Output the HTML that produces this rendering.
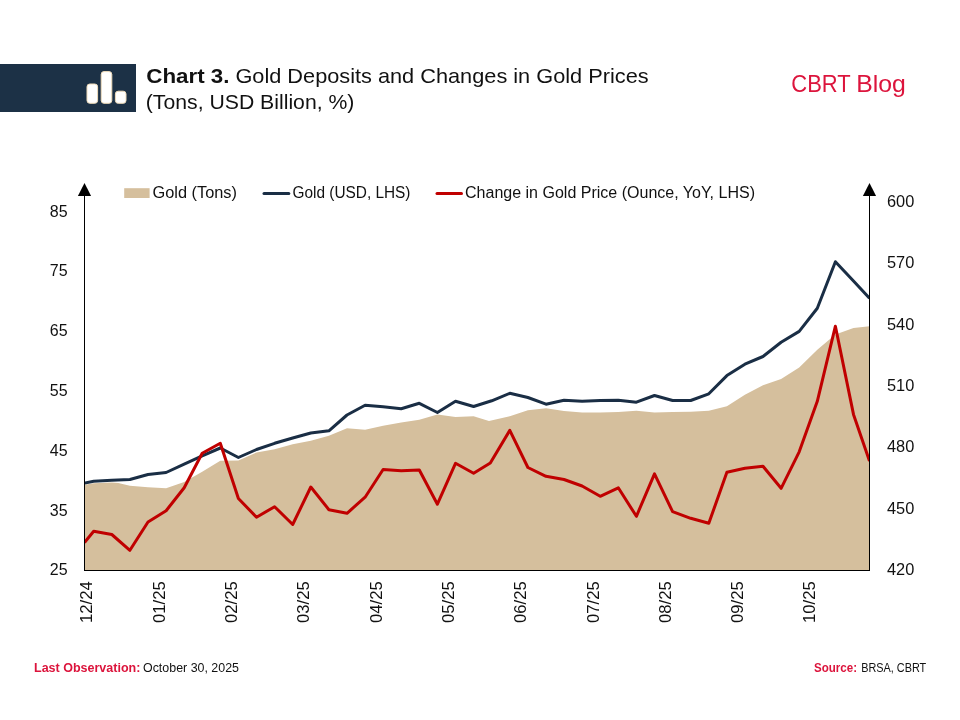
<!DOCTYPE html>
<html lang="en">
<head>
<meta charset="utf-8">
<title>Chart 3. Gold Deposits and Changes in Gold Prices</title>
<style>
html,body{margin:0;padding:0;background:#fff;}
body{width:960px;height:720px;overflow:hidden;font-family:"Liberation Sans", sans-serif;}
svg{display:block;}
text{font-family:"Liberation Sans", sans-serif;}
</style>
</head>
<body>
<svg width="960" height="720" viewBox="0 0 960 720">
<rect x="0" y="0" width="960" height="720" fill="#ffffff"/>
<!-- header -->
<rect x="0" y="64" width="136" height="48" fill="#1c3146"/>
<g fill="#ffffff" stroke="#f0dcba" stroke-width="1">
<rect x="87" y="84" width="10.6" height="19.3" rx="2.8" ry="2.8"/>
<rect x="101.2" y="71.6" width="10.6" height="31.7" rx="2.8" ry="2.8"/>
<rect x="115.4" y="91.2" width="10.6" height="12.1" rx="2.8" ry="2.8"/>
</g>
<g font-size="21" fill="#111111">
<text x="146.3" y="83" font-weight="bold" textLength="83.2" lengthAdjust="spacingAndGlyphs">Chart 3.</text>
<text x="235.4" y="83" textLength="413.2" lengthAdjust="spacingAndGlyphs">Gold Deposits and Changes in Gold Prices</text>
<text x="145.8" y="109" textLength="208.6" lengthAdjust="spacingAndGlyphs">(Tons, USD Billion, %)</text>
</g>
<text x="791.3" y="91.8" font-size="24" fill="#dc143c"><tspan x="791.3" textLength="59" lengthAdjust="spacingAndGlyphs">CBRT</tspan> <tspan x="856.3" textLength="49.6" lengthAdjust="spacingAndGlyphs">Blog</tspan></text>
<!-- chart -->
<defs><clipPath id="plot"><rect x="85" y="180" width="784" height="391"/></clipPath></defs>
<polygon points="84.5,484.7 93.7,483.3 111.8,482.5 118.3,482.9 129.9,485.8 148.0,487.2 166.1,488.3 184.2,482.0 202.2,471.7 220.3,460.8 238.4,460.4 256.5,452.5 274.6,449.2 292.7,444.2 310.8,440.8 328.9,435.8 347.0,428.3 365.1,429.7 383.1,425.8 401.2,422.5 419.3,419.8 437.4,414.4 455.5,417.0 473.6,416.2 489.0,421.1 509.8,416.2 527.9,410.3 546.0,408.2 564.0,411.0 582.1,412.5 600.2,412.5 618.3,412.0 636.4,410.8 654.5,412.5 672.6,412.0 690.7,411.7 708.8,410.7 726.9,406.3 744.9,394.7 763.0,385.3 781.1,379.1 799.2,367.5 817.3,349.8 835.4,334.4 853.5,328.0 869.5,326.2 869.5,570 84.5,570" fill="#d5bf9d"/>
<polyline clip-path="url(#plot)" points="84.5,483.0 93.7,481.3 111.8,480.3 129.9,479.5 148.0,474.5 166.1,472.5 184.2,464.2 202.2,455.8 220.3,448.0 238.4,457.5 256.5,449.5 274.6,443.3 292.7,438.0 310.8,433.0 328.9,430.8 347.0,415.0 365.1,405.3 383.1,406.7 401.2,408.7 419.3,403.3 437.4,412.5 455.5,401.3 473.6,406.5 491.7,400.8 509.8,393.3 527.9,397.5 546.0,404.2 564.0,400.3 582.1,401.3 600.2,400.4 618.3,400.2 636.4,402.2 654.5,395.5 672.6,400.5 690.7,400.5 708.8,393.8 726.9,375.6 744.9,364.2 763.0,356.5 781.1,342.2 799.2,331.4 817.3,308.3 835.4,261.7 853.5,281.0 869.5,298.3" fill="none" stroke="#1a2e45" stroke-width="3" stroke-linejoin="round" stroke-linecap="butt"/>
<polyline clip-path="url(#plot)" points="84.5,542.5 93.7,531.3 111.8,534.5 129.9,550.3 148.0,522.0 166.1,510.8 184.2,487.8 202.2,453.3 220.3,443.3 238.4,498.5 256.5,517.2 274.6,506.7 292.7,524.5 310.8,487.0 328.9,509.7 347.0,513.3 365.1,497.2 383.1,469.5 401.2,470.8 419.3,470.0 437.4,504.2 455.5,463.3 473.6,473.3 490.3,463.0 509.8,430.3 527.9,467.5 546.0,476.3 564.0,479.5 582.1,486.0 600.2,496.3 618.3,487.8 636.4,516.3 654.5,473.8 672.6,511.7 690.7,518.3 708.8,523.3 726.9,472.3 744.9,468.3 763.0,466.3 781.1,488.3 799.2,451.8 817.3,401.3 835.4,326.2 853.5,414.4 869.5,461.0" fill="none" stroke="#c00000" stroke-width="3" stroke-linejoin="round" stroke-linecap="butt"/>
<!-- axes -->
<g stroke="#000000" stroke-width="1" fill="none">
<line x1="84.5" y1="190" x2="84.5" y2="571"/>
<line x1="869.5" y1="190" x2="869.5" y2="571"/>
<line x1="84.0" y1="570.5" x2="870.0" y2="570.5"/>
</g>
<polygon points="84.5,183 91.1,196 77.9,196" fill="#000"/>
<polygon points="869.5,183 876.1,196 862.9,196" fill="#000"/>
<!-- legend -->
<rect x="124.2" y="188.2" width="25.4" height="9.8" fill="#d5bf9d"/>
<line x1="264" y1="193.5" x2="288.8" y2="193.5" stroke="#1a2e45" stroke-width="3" stroke-linecap="round"/>
<line x1="437" y1="193.5" x2="461.5" y2="193.5" stroke="#c00000" stroke-width="3" stroke-linecap="round"/>
<g font-size="16" fill="#111111">
<text x="152.5" y="198.3" textLength="84.5" lengthAdjust="spacingAndGlyphs">Gold (Tons)</text>
<text x="292.5" y="198.3" textLength="118" lengthAdjust="spacingAndGlyphs">Gold (USD, LHS)</text>
<text x="465" y="198.3" textLength="290" lengthAdjust="spacingAndGlyphs">Change in Gold Price (Ounce, YoY, LHS)</text>
</g>
<!-- axis labels -->
<g font-size="16" fill="#111111">
<text x="67.6" y="216.6" text-anchor="end">85</text><text x="67.6" y="276.4" text-anchor="end">75</text><text x="67.6" y="336.2" text-anchor="end">65</text><text x="67.6" y="396.0" text-anchor="end">55</text><text x="67.6" y="455.8" text-anchor="end">45</text><text x="67.6" y="515.6" text-anchor="end">35</text><text x="67.6" y="575.4" text-anchor="end">25</text>
<text x="887" y="207.0" textLength="27.3" lengthAdjust="spacingAndGlyphs">600</text><text x="887" y="268.3" textLength="27.3" lengthAdjust="spacingAndGlyphs">570</text><text x="887" y="329.7" textLength="27.3" lengthAdjust="spacingAndGlyphs">540</text><text x="887" y="391.0" textLength="27.3" lengthAdjust="spacingAndGlyphs">510</text><text x="887" y="452.3" textLength="27.3" lengthAdjust="spacingAndGlyphs">480</text><text x="887" y="513.6" textLength="27.3" lengthAdjust="spacingAndGlyphs">450</text><text x="887" y="575.0" textLength="27.3" lengthAdjust="spacingAndGlyphs">420</text>
<text transform="translate(92.4,622.9) rotate(-90)" textLength="41.6" lengthAdjust="spacingAndGlyphs">12/24</text><text transform="translate(164.7,622.9) rotate(-90)" textLength="41.6" lengthAdjust="spacingAndGlyphs">01/25</text><text transform="translate(237.0,622.9) rotate(-90)" textLength="41.6" lengthAdjust="spacingAndGlyphs">02/25</text><text transform="translate(309.3,622.9) rotate(-90)" textLength="41.6" lengthAdjust="spacingAndGlyphs">03/25</text><text transform="translate(381.6,622.9) rotate(-90)" textLength="41.6" lengthAdjust="spacingAndGlyphs">04/25</text><text transform="translate(453.9,622.9) rotate(-90)" textLength="41.6" lengthAdjust="spacingAndGlyphs">05/25</text><text transform="translate(526.2,622.9) rotate(-90)" textLength="41.6" lengthAdjust="spacingAndGlyphs">06/25</text><text transform="translate(598.5,622.9) rotate(-90)" textLength="41.6" lengthAdjust="spacingAndGlyphs">07/25</text><text transform="translate(670.8,622.9) rotate(-90)" textLength="41.6" lengthAdjust="spacingAndGlyphs">08/25</text><text transform="translate(743.1,622.9) rotate(-90)" textLength="41.6" lengthAdjust="spacingAndGlyphs">09/25</text><text transform="translate(815.4,622.9) rotate(-90)" textLength="41.6" lengthAdjust="spacingAndGlyphs">10/25</text>
</g>
<!-- footer -->
<g font-size="12">
<text x="34" y="671.9" font-weight="bold" fill="#dc143c" textLength="106.4" lengthAdjust="spacingAndGlyphs">Last Observation:</text>
<text x="143" y="671.9" fill="#111111" textLength="96" lengthAdjust="spacingAndGlyphs">October 30, 2025</text>
<text x="814" y="671.9" font-weight="bold" fill="#dc143c" textLength="43" lengthAdjust="spacingAndGlyphs">Source:</text>
<text x="861.2" y="671.9" fill="#111111" textLength="65" lengthAdjust="spacingAndGlyphs">BRSA, CBRT</text>
</g>
</svg>
</body>
</html>
